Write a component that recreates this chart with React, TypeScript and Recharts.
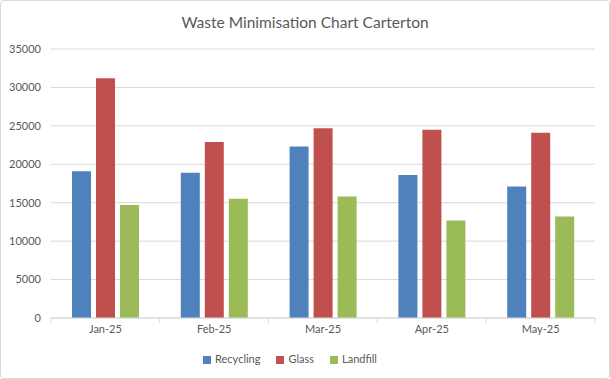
import React from "react";
import {
  BarChart,
  Bar,
  XAxis,
  YAxis,
  CartesianGrid,
  Legend,
} from "recharts";

const months = ["Jan-25", "Feb-25", "Mar-25", "Apr-25", "May-25"];
const recycling = [19100, 18900, 22300, 18600, 17100];
const glass = [31200, 22900, 24700, 24500, 24100];
const landfill = [14700, 15500, 15800, 12700, 13200];
const yTicks = [0, 5000, 10000, 15000, 20000, 25000, 30000, 35000];

const data = months.map((m, i) => ({
  month: m,
  Recycling: recycling[i],
  Glass: glass[i],
  Landfill: landfill[i],
}));

const FONT = "Lato, 'Open Sans', sans-serif";
const TEXT = "#595959";
const GRID = "#d9d9d9";
const HALF_BAND = 54.5;

const MonthTick = (props: any) => {
  const { x, y, payload, index } = props;
  const last = index === months.length - 1;
  return (
    <g>
      <line x1={x - HALF_BAND} y1={y - 8} x2={x - HALF_BAND} y2={y - 3} stroke={GRID} />
      {last && <line x1={x + HALF_BAND} y1={y - 8} x2={x + HALF_BAND} y2={y - 3} stroke={GRID} />}
      <text x={x} y={y + 7} textAnchor="middle" fill={TEXT} fontSize={11} fontFamily={FONT}>
        {payload.value}
      </text>
    </g>
  );
};

export default function App() {
  return (
    <div
      style={{
        position: "absolute",
        left: 0,
        top: 0,
        width: 608,
        height: 377,
        border: `1px solid ${GRID}`,
        borderRadius: 4,
        background: "#fff",
        fontFamily: FONT,
      }}
    >
      <div
        style={{
          position: "absolute",
          top: 12,
          width: "100%",
          textAlign: "center",
          fontSize: 15.5,
          color: TEXT,
        }}
      >
        Waste Minimisation Chart Carterton
      </div>
      <BarChart
        width={608}
        height={377}
        data={data}
        margin={{ top: 48, right: 14, left: 0, bottom: 10 }}
        barCategoryGap={21}
        barGap={5}
      >
        <CartesianGrid vertical={false} stroke={GRID} />
        <YAxis
          domain={[0, 35000]}
          ticks={yTicks}
          width={50}
          axisLine={false}
          tickLine={false}
          tickMargin={4}
          tick={{ fill: TEXT, fontSize: 11, fontFamily: FONT }}
        />
        <XAxis
          dataKey="month"
          height={22}
          axisLine={{ stroke: GRID }}
          tickLine={false}
          tick={<MonthTick />}
        />
        <Legend
          iconType="square"
          iconSize={8}
          itemSorter={null as any}
          wrapperStyle={{ fontSize: 11, fontFamily: FONT, color: TEXT, height: 28, paddingTop: 12, boxSizing: "border-box" }}
          formatter={(v: string) => <span style={{ color: TEXT, marginRight: 6 }}>{v}</span>}
        />
        <Bar dataKey="Recycling" fill="#4f81bd" isAnimationActive={false} />
        <Bar dataKey="Glass" fill="#c0504d" isAnimationActive={false} />
        <Bar dataKey="Landfill" fill="#9bbb59" isAnimationActive={false} />
      </BarChart>
    </div>
  );
}
